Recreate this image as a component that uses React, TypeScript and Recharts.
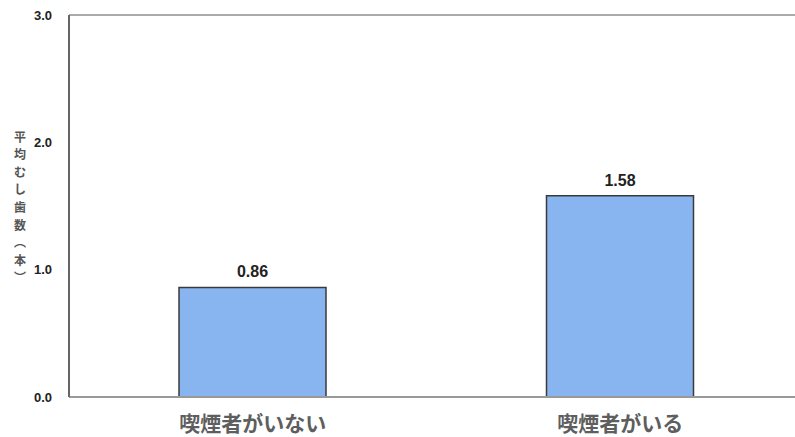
import React from "react";
import { BarChart, Bar, XAxis, YAxis, ReferenceLine, LabelList, Label } from "recharts";

const categories = ["喫煙者がいない", "喫煙者がいる"];
const values = [0.86, 1.58];
const yTicks = [0, 1, 2, 3];
const yLabelChars = ["平", "均", "む", "し", "歯", "数", "︵", "本", "︶"];

const data = categories.map((name, i) => ({ name, value: values[i] }));

const XTick = (props: any) => {
  const { x, y, payload } = props;
  return (
    <text x={x} y={y} textAnchor="middle" dominantBaseline="central" fontSize={21} fontWeight={700}
      fontFamily="'Noto Sans CJK JP', sans-serif" fill="#5e5e5e">
      {payload.value}
    </text>
  );
};

const YTick = (props: any) => {
  const { x, y, payload } = props;
  return (
    <text x={x} y={y} textAnchor="end" dominantBaseline="central" fontSize={13} fontWeight={700}
      fontFamily="'Liberation Sans', Arial, sans-serif" fill="#222">
      {Number(payload.value).toFixed(1)}
    </text>
  );
};

const YLabel = () => (
  <g>
    {yLabelChars.map((c, i) => (
      <text key={i} x={20} y={136 + i * 17.6} dominantBaseline="central" fontSize={12} fontWeight={700}
        fontFamily="'Noto Sans CJK JP', sans-serif" fill="#555" textAnchor="middle">
        {c}
      </text>
    ))}
  </g>
);

export default function App() {
  return (
    <div style={{ position: "fixed", left: 0, top: 0, width: 795, height: 437, overflow: "hidden", background: "#fff" }}>
      <BarChart width={810} height={437} data={data} margin={{ top: 15, right: 6, left: 0, bottom: 0 }}
        barSize={147}>
        <ReferenceLine y={3} stroke="#aaa" strokeWidth={2} />
        <XAxis dataKey="name" height={40} tick={<XTick />} tickLine={false} tickSize={0} tickMargin={25}
          axisLine={{ stroke: "#999", strokeWidth: 2 }} />
        <YAxis domain={[0, 3]} ticks={yTicks} width={69} tick={<YTick />} tickLine={false} tickSize={6} tickMargin={11}
          axisLine={{ stroke: "#666", strokeWidth: 2 }}>
          <Label content={<YLabel />} />
        </YAxis>
        <Bar dataKey="value" fill="#88b5f0" stroke="#3a3a3a" strokeWidth={1.5} isAnimationActive={false}>
          <LabelList dataKey="value" position="top" offset={10} fontSize={16} fontWeight={700}
            fontFamily="'Liberation Sans', Arial, sans-serif" fill="#222" formatter={(v: any) => Number(v).toFixed(2)} />
        </Bar>
      </BarChart>
    </div>
  );
}
